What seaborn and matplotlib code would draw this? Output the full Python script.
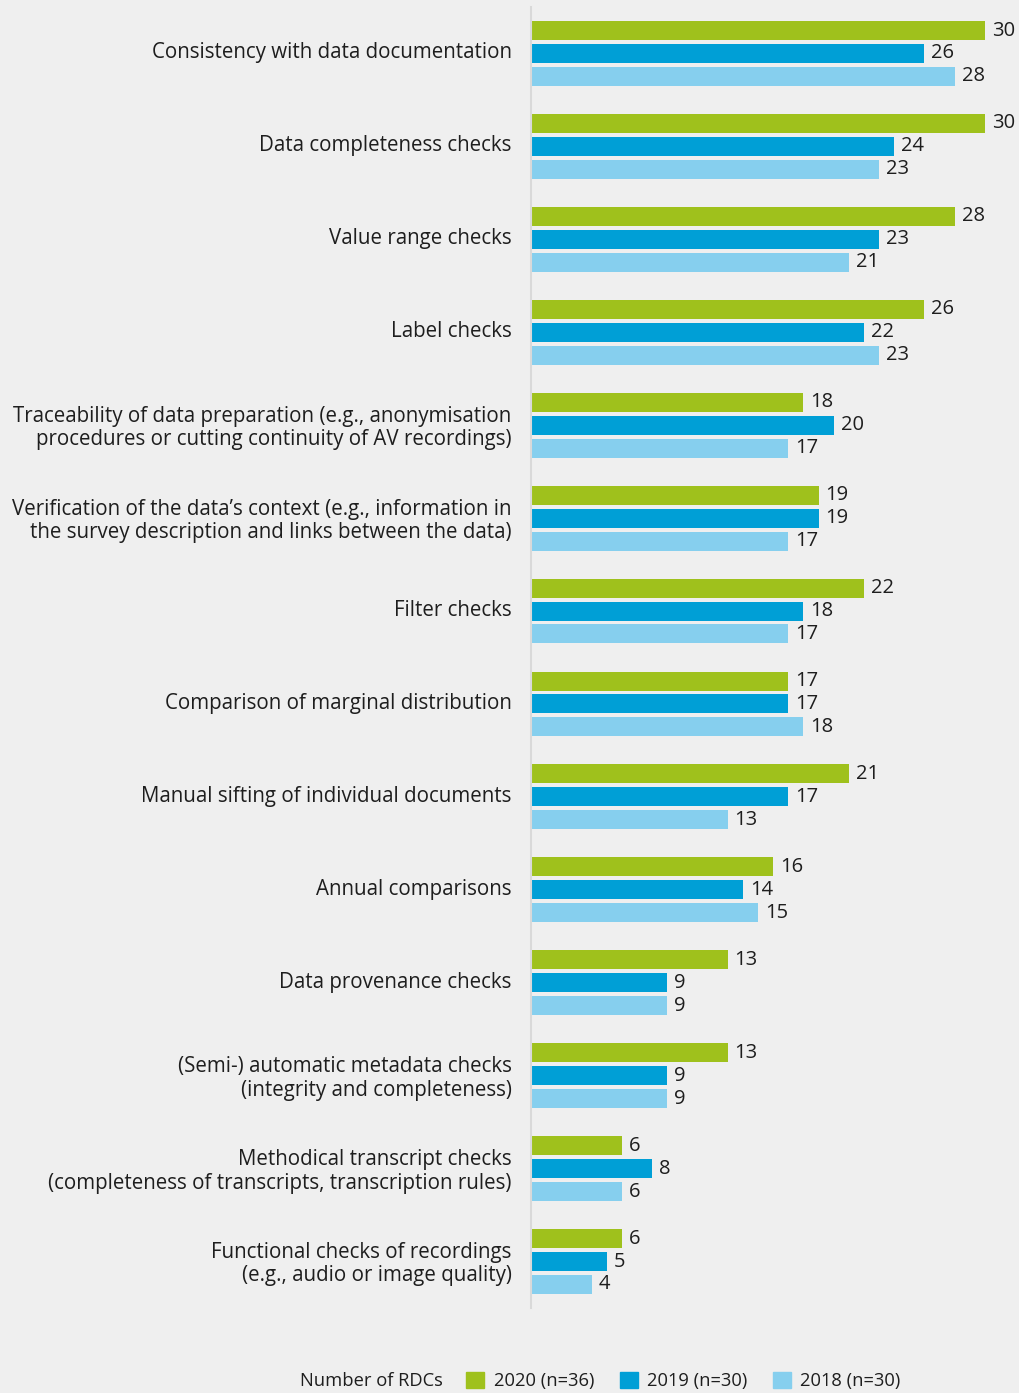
import pandas as pd
import numpy as np
import matplotlib
matplotlib.use('Agg')
import matplotlib.pyplot as plt
import matplotlib.transforms as mtransforms
import seaborn as sns
from matplotlib.patches import Patch

categories = [
    'Consistency with data documentation',
    'Data completeness checks',
    'Value range checks',
    'Label checks',
    'Traceability of data preparation (e.g., anonymisation\nprocedures or cutting continuity of AV recordings)',
    'Verification of the data\u2019s context (e.g., information in\nthe survey description and links between the data)',
    'Filter checks',
    'Comparison of marginal distribution',
    'Manual sifting of individual documents',
    'Annual comparisons',
    'Data provenance checks',
    '(Semi-) automatic metadata checks\n(integrity and completeness)',
    'Methodical transcript checks\n(completeness of transcripts, transcription rules)',
    'Functional checks of recordings\n(e.g., audio or image quality)',
]
series = ['2020 (n=36)', '2019 (n=30)', '2018 (n=30)']
v2020 = [30, 30, 28, 26, 18, 19, 22, 17, 21, 16, 13, 13, 6, 6]
v2019 = [26, 24, 23, 22, 20, 19, 18, 17, 17, 14, 9, 9, 8, 5]
v2018 = [28, 23, 21, 23, 17, 17, 17, 18, 13, 15, 9, 9, 6, 4]
colors = ['#9fc11c', '#009fd6', '#86cfee']

df = pd.DataFrame({'category': categories * 3,
                   'series': np.repeat(series, len(categories)),
                   'value': v2020 + v2019 + v2018})

bg = '#efefef'
txt = '#1e1e1e'
sns.set_theme(style='white')
plt.rcParams['font.family'] = ['Open Sans', 'DejaVu Sans']

fig = plt.figure(figsize=(10.19, 13.93), dpi=100, facecolor=bg)
ax = fig.add_axes([531 / 1019, 85 / 1393, 488 / 1019, 1301 / 1393])
ax.set_facecolor(bg)

sns.barplot(data=df, y='category', x='value', hue='series', order=categories,
            hue_order=series, palette=colors, orient='h', width=0.74, gap=0.17,
            saturation=1, linewidth=0, legend=False, ax=ax)

for cont in ax.containers:
    ax.bar_label(cont, padding=5, fontsize=14.5, color=txt)

ax.set_xlim(0, 32.25)
ax.set_ylim(len(categories) - 0.5, -0.5)
ax.set_xlabel('')
ax.set_ylabel('')
ax.set_xticks([])
for s in ['top', 'right', 'bottom']:
    ax.spines[s].set_visible(False)
ax.spines['left'].set_color('#d9d9d9')
ax.spines['left'].set_linewidth(1.5)
ax.tick_params(axis='y', which='major', length=0, pad=14, labelsize=14.8, labelcolor=txt)
ax.set_yticks(np.arange(-0.5, len(categories), 1), minor=True)
ax.tick_params(axis='y', which='minor', length=6, width=1.2, color='#d9d9d9')

# nudge labels up a little, single-line ones a bit more
for lab in ax.get_yticklabels():
    lab.set_linespacing(1.15)
    dy = 1 if '\n' in lab.get_text() else 3
    lab.set_transform(lab.get_transform() + mtransforms.ScaledTranslation(0, dy / 100, fig.dpi_scale_trans))

handles = [Patch(color=c) for c in colors]
fig.text(300 / 1019, 12 / 1393, 'Number of RDCs', fontsize=13.2, color=txt, va='center')
fig.legend(handles, series, ncol=3, loc='center left', bbox_to_anchor=(466 / 1019, 12 / 1393),
           frameon=False, fontsize=13.2, handlelength=1.0, handleheight=1.0,
           handletextpad=0.5, columnspacing=1.4, borderpad=0, borderaxespad=0,
           labelcolor=txt)

fig.savefig('out.png', dpi=100, facecolor=bg)
